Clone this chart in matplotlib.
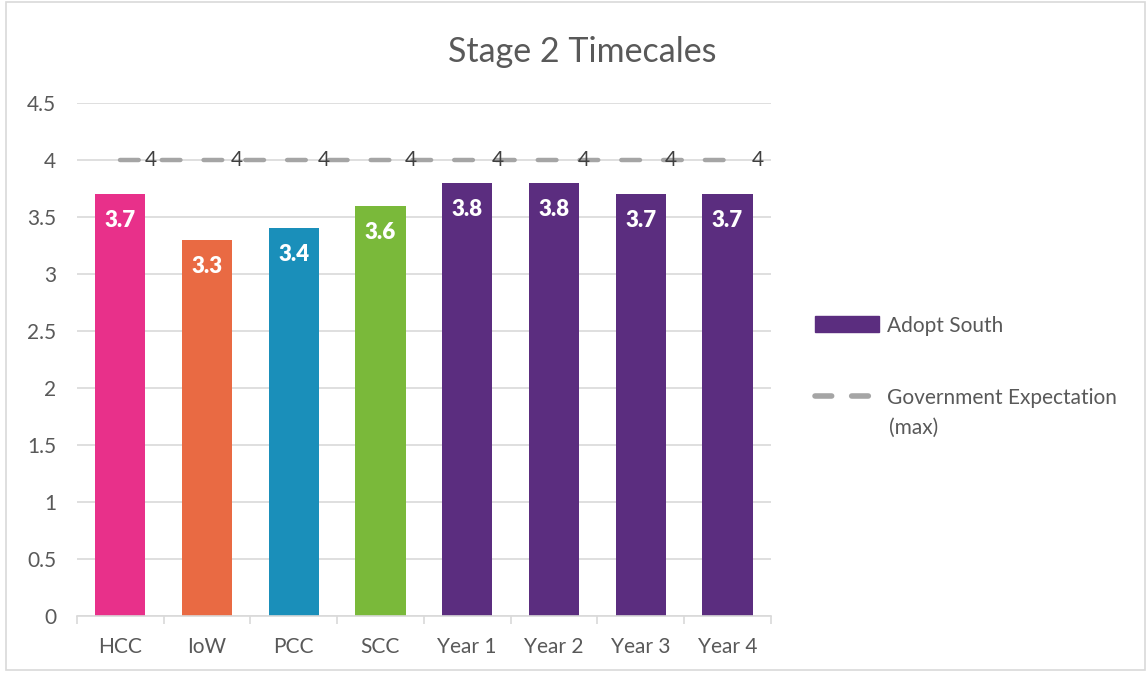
import numpy as np
import matplotlib.pyplot as plt
from matplotlib.patches import Rectangle, Patch

categories = ["HCC", "IoW", "PCC", "SCC", "Year 1", "Year 2", "Year 3", "Year 4"]
values = [3.7, 3.3, 3.4, 3.6, 3.8, 3.8, 3.7, 3.7]
expectation = [4, 4, 4, 4, 4, 4, 4, 4]
colors = ["#E8308A", "#E96A43", "#1A8FBA", "#7AB93A",
          "#5B2D7F", "#5B2D7F", "#5B2D7F", "#5B2D7F"]

plt.rcParams['font.family'] = ['Lato', 'DejaVu Sans']

fig = plt.figure(figsize=(11.47, 6.73), dpi=100)
ax = fig.add_axes([0.067, 0.0847, 0.605, 0.7623])

x = np.arange(len(categories))
ax.bar(x, values, width=0.58, color=colors, zorder=2)
for xi, v in zip(x, values):
    ax.text(xi, v - 0.14, f"{v}", ha="center", va="top", color="white",
            fontsize=16, fontweight="heavy", zorder=3)

line, = ax.plot(x, expectation, color="#A5A5A5", linewidth=3.2,
                dashes=(4.2, 5.2), dash_capstyle="round",
                label="Government Expectation", zorder=3)
for xi, v in zip(x, expectation):
    ax.text(xi + 0.28, v, f"{v}", ha="left", va="center", color="#404040",
            fontsize=15, zorder=4)

ax.set_xlim(-0.5, len(categories) - 0.5)
ax.set_ylim(0, 4.5)
ax.set_yticks(np.arange(0, 4.51, 0.5))
ax.set_yticklabels(["0", "0.5", "1", "1.5", "2", "2.5", "3", "3.5", "4", "4.5"])
ax.yaxis.grid(True, color="#D9D9D9", linewidth=1.2, zorder=0)
ax.set_axisbelow(True)
ax.tick_params(axis="y", length=0, labelsize=15, labelcolor="#595959", pad=15)

ax.set_xticks(x)
ax.set_xticklabels(categories)
ax.set_xticks(np.arange(-0.5, len(categories), 1), minor=True)
ax.tick_params(axis="x", which="major", length=0, labelsize=15,
               labelcolor="#595959", pad=15)
ax.tick_params(axis="x", which="minor", length=6, color="#D9D9D9", width=1.2)

for s in ["top", "right", "left"]:
    ax.spines[s].set_visible(False)
ax.spines["bottom"].set_color("#D9D9D9")
ax.spines["bottom"].set_linewidth(1.2)

fig.text(0.508, 0.922, "Stage 2 Timecales", ha="center", va="center",
         fontsize=24.5, color="#595959")

bar_handle = Patch(color="#5B2D7F", label="Adopt South")
leg = fig.legend(handles=[bar_handle, line], loc="upper left",
                 bbox_to_anchor=(0.694, 0.559),
                 frameon=False, fontsize=15, labelcolor="#595959",
                 handlelength=3.1, handleheight=0.8, labelspacing=2.5,
                 handletextpad=0.35)
leg_line = leg.get_lines()[0]
leg_line.set_linewidth(4)
leg_line.set_dashes((3.0, 3.6))
fig.text(0.775, 0.364, "(max)", ha="left", va="center", fontsize=15,
         color="#595959")

fig.patches.append(Rectangle((0.005, 0.004), 0.993, 0.993, transform=fig.transFigure,
                             fill=False, edgecolor="#D9D9D9", linewidth=1.2))

fig.savefig("out.png", dpi=100)
